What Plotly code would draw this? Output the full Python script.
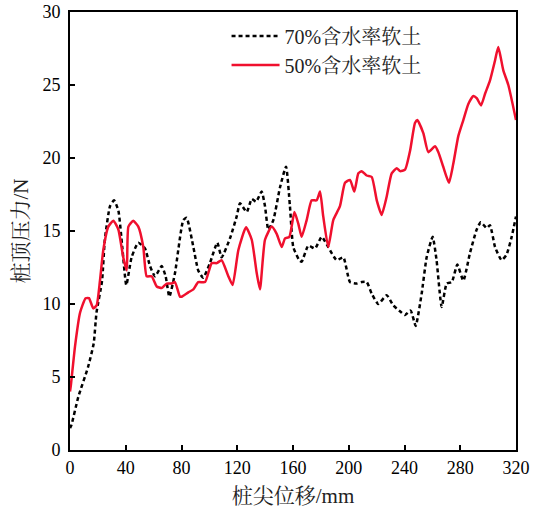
import plotly.graph_objects as go

# 70% moisture soft soil (black dashed)
x70 = [0, 1, 6, 13, 17, 19, 23, 25, 28.7, 31.6, 34.7, 37.5, 40.4, 44.2, 49, 53.8, 57.4, 61, 65.8, 68.6,
       71.3, 75.3, 81.3, 83.7, 88.5, 92, 95.6, 100.4, 105.7, 108.8, 114.8, 119.6, 122, 126.8, 130.4, 133.5,
       137.5, 139.9, 142.3, 145.9, 150.7, 155, 157.8, 160.2, 164.5, 166.2, 171, 175.8, 180.6, 185.3, 191.3,
       196.1, 200.9, 205.7, 209.3, 212.9, 216.5, 221.2, 227.2, 232, 236.8, 240.4, 244.4, 248, 252.3, 255.9,
       260.2, 263, 266.7, 270.3, 273.9, 277.9, 282.2, 287, 291.8, 294.7, 299, 301.3, 305, 309.7, 313.3,
       316.9, 320]
y70 = [1.5, 1.7, 3.65, 5.7, 7.3, 9.4, 11.6, 14.4, 16.7, 17.1, 16.4, 13.9, 11.3, 13.2, 14.2, 13.8, 12.6, 11.9,
       12.6, 11.9, 10.5, 12.1, 15.75, 15.9, 13.9, 12.3, 11.8, 12.8, 14.2, 13.2, 14.5, 16.0, 16.9, 16.3, 17.2,
       17.0, 17.7, 16.7, 15.1, 15.75, 18.0, 19.4, 16.7, 13.9, 13.0, 12.9, 14.0, 13.8, 14.6, 13.9, 13.0, 13.2,
       11.5, 11.4, 11.5, 11.5, 10.7, 10.0, 10.6, 9.9, 9.5, 9.25, 9.55, 8.5, 10.7, 13.2, 14.6, 13.0, 9.8, 11.4,
       11.5, 12.7, 11.6, 13.5, 15.1, 15.6, 15.2, 15.4, 13.9, 13.0, 13.4, 14.6, 16.0]

# 50% moisture soft soil (red solid)
x50 = [0, 0.7, 3.6, 7.2, 11.2, 13.6, 16.7, 19.1, 21.5, 23.9, 27.5, 31.1, 34.7, 38.2, 40.7, 41.9, 45.4, 49,
       52.6, 55, 58.6, 62.2, 65.8, 69.4, 73, 75.3, 78.9, 80.1, 84.9, 88.5, 92, 96.9, 101.7, 105.3, 108.8,
       113.6, 116.7, 120.8, 126.3, 130.4, 134, 136.3, 139.9, 144.7, 148.3, 151.9, 154.3, 157.4, 161, 163.8,
       166.2, 169.8, 173.4, 177, 179.4, 181.7, 185.3, 188.9, 193.7, 197.3, 200.9, 204, 206.9, 209.3, 212.9,
       216.5, 220.1, 223.6, 227.2, 230.8, 234.4, 236.8, 240.4, 244, 247.5, 249.2, 253.5, 257.1, 261.9, 264.3,
       267.8, 271.9, 275, 278.6, 282.2, 285.8, 289.4, 291.8, 294.9, 297.8, 301.3, 305, 307.3, 310.9, 314.5,
       320]
y50 = [4.0, 4.5, 7.1, 9.4, 10.4, 10.4, 9.7, 9.9, 11.6, 13.7, 15.3, 15.7, 15.1, 13.2, 12.3, 15.3, 15.7, 15.3,
       13.9, 11.9, 11.9, 11.2, 11.1, 11.4, 11.4, 11.5, 10.5, 10.5, 10.8, 11.0, 11.5, 11.5, 12.8, 12.8, 13.0,
       11.9, 11.3, 13.7, 15.25, 14.4, 12.1, 11.0, 14.4, 15.3, 14.8, 13.9, 14.5, 14.6, 16.3, 15.5, 14.6, 15.75,
       17.1, 17.1, 17.7, 16.0, 13.9, 15.75, 16.7, 18.3, 18.5, 17.7, 18.95, 19.1, 18.8, 18.7, 17.1, 16.1, 17.35,
       18.95, 19.3, 19.1, 19.2, 20.5, 22.4, 22.6, 21.7, 20.4, 20.8, 20.4, 19.4, 18.3, 19.6, 21.5, 22.6, 23.7,
       24.25, 24.1, 23.6, 24.4, 25.3, 26.7, 27.6, 26.0, 25.0, 22.6]

x_ticks = [0, 40, 80, 120, 160, 200, 240, 280, 320]
y_ticks = [0, 5, 10, 15, 20, 25, 30]

FONT = "Liberation Serif, Times New Roman, Noto Serif CJK SC, Noto Sans CJK SC, serif"

fig = go.Figure()
fig.add_trace(go.Scatter(x=x70, y=y70, mode="lines", name="70%含水率软土",
                         line=dict(color="black", width=2.5, dash="4px,3px", shape="spline", smoothing=0.5)))
fig.add_trace(go.Scatter(x=x50, y=y50, mode="lines", name="50%含水率软土",
                         line=dict(color="#f0102e", width=2.5, shape="spline", smoothing=0.5)))

axis_common = dict(showline=True, linecolor="black", linewidth=2, mirror=True,
                   ticks="inside", ticklen=5, tickwidth=2, tickcolor="black",
                   showgrid=False, zeroline=False, automargin=False,
                   tickfont=dict(family=FONT, size=18, color="black"))

fig.update_xaxes(range=[0, 320], tickvals=x_ticks, ticktext=[str(v) for v in x_ticks],
                 title=dict(text="桩尖位移/mm", font=dict(family=FONT, size=21, color="#222"), standoff=12),
                 **axis_common)
fig.update_yaxes(range=[0, 30], tickvals=y_ticks, ticktext=[str(v) for v in y_ticks],
                 ticklabelstandoff=4,
                 title=dict(text="桩顶压力/N", font=dict(family=FONT, size=21, color="#222"), standoff=8),
                 **axis_common)

fig.update_layout(
    width=540, height=512,
    margin=dict(l=70, r=24, t=12, b=62),
    plot_bgcolor="white", paper_bgcolor="white",
    showlegend=True,
    legend=dict(x=0.351, y=0.99, xanchor="left", yanchor="top",
                bgcolor="rgba(0,0,0,0)", font=dict(family=FONT, size=20, color="#222"),
                tracegroupgap=0, itemwidth=48),
)

fig.write_html("out.html", config={"displayModeBar": False},
               post_script="document.body.style.margin='0';")
